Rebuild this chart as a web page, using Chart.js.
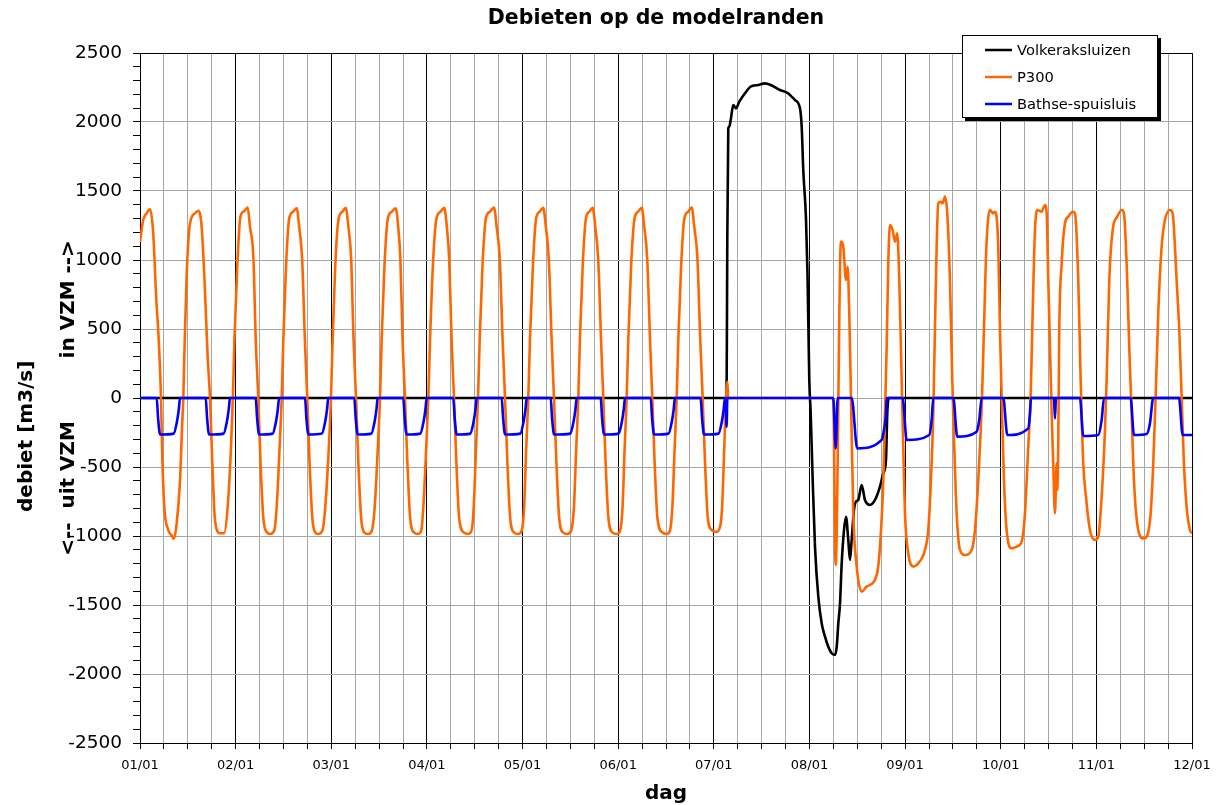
<!DOCTYPE html>
<html>
<head>
<meta charset="utf-8">
<title>Debieten op de modelranden</title>
<script src="https://cdn.jsdelivr.net/npm/chart.js@4.4.1/dist/chart.umd.min.js"></script>
<style>
  html, body { margin: 0; padding: 0; background: #fff; }
  #wrap { width: 1218px; height: 805px; }
</style>
</head>
<body>
<div id="wrap"><canvas id="chart" width="1218" height="805"></canvas></div>
<script>
// tijd in uren vanaf 01/01 00:00, debiet in m3/s
const chartTitle = 'Debieten op de modelranden';
const dayLabels = ['01/01', '02/01', '03/01', '04/01', '05/01', '06/01',
                   '07/01', '08/01', '09/01', '10/01', '11/01', '12/01'];
const seriesNames = ['Volkeraksluizen', 'P300', 'Bathse-spuisluis'];
const seriesColors = ['#000000', '#ff6600', '#0000ff'];

const volkerakPoints = [
  [0, 0], [147.2, 0], [147.38, 1145], [147.63, 1954], [147.88, 1966], [148.23, 2014],
  [148.88, 2123], [149.56, 2099], [150.39, 2147], [151.82, 2208], [153.25, 2256],
  [155.16, 2268], [156.84, 2280], [158.27, 2268], [160.6, 2232], [162.43, 2212],
  [164.36, 2159], [165.62, 2099], [166.05, 1966], [166.45, 1650], [167.13, 1300],
  [167.51, 900], [167.96, 130], [168.31, -111], [168.81, -594], [169.39, -1077],
  [170.22, -1440], [171.07, -1633], [171.9, -1729], [172.73, -1802], [173.58, -1850],
  [174.41, -1862], [174.84, -1802], [175.24, -1633], [175.67, -1488], [176.09, -1198],
  [176.67, -957], [177.17, -860], [177.74, -1029], [178.17, -1174], [178.59, -1029],
  [179.17, -812], [179.67, -751], [180.25, -739], [181.1, -630], [181.93, -739],
  [183.19, -775], [184.44, -739], [185.7, -642], [186.53, -546], [187.2, -449],
  [187.53, -111], [187.88, 0], [264, 0]
];

const p300Points = [
  [0, 1130], [0.8, 1290], [1.7, 1340], [2.51, 1370], [3.3, 1200], [4.1, 710], [4.7, 420],
  [5.27, 0], [5.6, -425], [6.1, -790], [7.1, -957], [7.9, -995], [8.5, -1020], [9.2, -910],
  [10.0, -620], [10.6, -180], [10.87, 0],
  [11.12, 300], [11.72, 900], [12.55, 1265], [13.8, 1338], [14.63, 1357], [15.47, 1240],
  [16.3, 780], [16.98, 300], [17.57, 0], [18.15, -470], [18.82, -885], [20.08, -980],
  [21.1, -980], [22.0, -790], [22.8, -380], [23.3, 0],
  [23.7, 420], [24.4, 950], [25.2, 1315], [26.2, 1355], [27.03, 1380], [27.6, 1240],
  [28.45, 1020], [29.05, 420], [29.68, 0], [30.25, -470], [30.95, -870], [31.9, -975],
  [32.62, -985], [33.7, -960], [34.3, -790], [35.0, -380], [35.56, 0],
  [35.98, 430], [36.65, 960], [37.45, 1300], [38.4, 1350], [39.32, 1375], [39.95, 1240],
  [40.7, 1000], [41.38, 420], [41.98, 0], [42.55, -470], [43.25, -870], [44.0, -975],
  [44.74, -985], [45.8, -960], [46.5, -790], [47.35, -380], [47.93, 0],
  [48.35, 430], [49.0, 960], [49.85, 1300], [50.8, 1350], [51.62, 1378], [52.3, 1240],
  [53.0, 1000], [53.6, 420], [54.21, 0], [54.8, -470], [55.5, -870], [56.3, -975],
  [57.29, -985], [58.2, -960], [58.9, -790], [59.65, -380], [60.23, 0],
  [60.65, 430], [61.35, 960], [62.2, 1300], [63.2, 1350], [64.17, 1375], [64.8, 1240],
  [65.35, 1000], [65.9, 420], [66.5, 0], [67.1, -470], [67.8, -870], [68.8, -975],
  [69.84, -985], [70.6, -960], [71.1, -790], [71.8, -380], [72.35, 0],
  [72.8, 430], [73.5, 960], [74.4, 1300], [75.4, 1350], [76.36, 1378], [77.0, 1240],
  [77.6, 1000], [78.2, 420], [78.8, 0], [79.4, -470], [80.1, -870], [81.3, -975],
  [82.38, -985], [83.2, -960], [83.75, -790], [84.3, -380], [84.82, 0],
  [85.25, 430], [85.95, 960], [86.8, 1300], [87.8, 1350], [88.83, 1380], [89.5, 1240],
  [90.3, 1000], [91.0, 420], [91.6, 0], [92.2, -470], [92.9, -870], [93.9, -975],
  [94.93, -985], [95.8, -960], [96.4, -790], [96.9, -380], [97.44, 0],
  [97.87, 430], [98.6, 960], [99.4, 1300], [100.3, 1350], [101.2, 1378], [101.85, 1240],
  [102.6, 1000], [103.3, 420], [103.89, 0], [104.5, -470], [105.2, -870], [106.2, -975],
  [107.23, -985], [108.2, -960], [108.9, -790], [109.45, -380], [109.99, 0],
  [110.4, 430], [111.1, 960], [111.9, 1300], [112.75, 1350], [113.6, 1378], [114.25, 1240],
  [115.0, 1000], [115.7, 420], [116.26, 0], [116.85, -470], [117.55, -870], [118.6, -975],
  [119.62, -985], [120.5, -960], [121.1, -790], [121.6, -380], [122.13, 0],
  [122.55, 430], [123.25, 960], [124.1, 1300], [125.0, 1350], [125.9, 1378], [126.55, 1240],
  [127.3, 1000], [128.0, 420], [128.56, 0], [129.15, -470], [129.85, -870], [131.1, -975],
  [132.17, -985], [133.0, -960], [133.6, -790], [134.15, -380], [134.68, 0],
  [135.1, 430], [135.8, 960], [136.6, 1300], [137.55, 1350], [138.44, 1380], [139.1, 1240],
  [139.9, 1000], [140.6, 420], [141.2, 0], [141.8, -470], [142.5, -870], [143.6, -960],
  [144.72, -970], [145.6, -930], [146.1, -780], [146.6, -380], [147.05, 0],
  [147.4, 118], [147.6, 0], [173.95, 0],
  [174.58, -1210], [175.91, 1133], [176.49, 1096], [177.17, 855], [177.59, 951],
  [177.99, 614], [178.42, 10], [179.0, -836], [179.85, -1222], [181.1, -1403],
  [182.36, -1367], [184.87, -1283], [185.7, -1077], [186.53, -594], [186.95, -111],
  [187.38, 372], [187.78, 976], [188.21, 1254], [188.88, 1217], [189.46, 1133],
  [190.04, 1193], [190.54, 855], [191.14, 130], [191.54, -353], [191.97, -836],
  [192.8, -1125], [194.05, -1222], [195.31, -1198], [196.99, -1101], [197.81, -957],
  [198.49, -594], [199.07, -111], [199.49, 493], [199.92, 1096], [200.32, 1411],
  [200.93, 1422], [201.43, 1411], [202.01, 1459], [202.58, 1338], [203.26, 855],
  [203.84, 130], [204.34, -353], [204.94, -836], [205.77, -1101], [207.03, -1138],
  [208.71, -1101], [209.53, -957], [210.36, -594], [211.3, 0], [211.9, 614],
  [212.4, 1096], [213.3, 1362], [214.13, 1338], [214.55, 1350], [215.38, 1096],
  [215.81, 493], [216.23, 10], [216.81, -594], [217.49, -957], [218.74, -1089],
  [220.0, -1077], [221.25, -1041], [222.08, -836], [222.91, -353], [223.51, 10],
  [224.01, 614], [224.6, 1217], [225.17, 1362], [226.27, 1350], [227.1, 1398],
  [227.53, 1338], [227.93, 855], [228.36, 372], [228.78, -111], [229.18, -473],
  [229.61, -836], [230.04, -473], [230.19, -667], [230.44, -328], [230.69, 493],
  [231.29, 976], [232.12, 1266], [232.95, 1314], [234.05, 1350], [234.63, 1338],
  [235.46, 855], [236.06, 130], [236.71, -473], [237.39, -715], [238.39, -957],
  [239.65, -1029], [240.47, -1005], [241.33, -715], [242.16, -232], [242.58, 130],
  [243.24, 855], [244.09, 1217], [245.24, 1314], [246.35, 1362], [246.92, 1338],
  [247.6, 976], [248.25, 372], [248.85, -111], [249.43, -594], [250.51, -957],
  [251.77, -1017], [252.62, -1005], [253.62, -836], [254.28, -473], [254.88, 10],
  [255.53, 614], [256.38, 1096], [257.21, 1290], [258.46, 1362], [259.14, 1338],
  [260.14, 855], [260.8, 493], [261.4, 10], [261.97, -473], [262.65, -788],
  [263.48, -957], [264, -981]
];

const bathsePoints = [
  [0, 0],
  [4.19, 0], [4.55, -150], [5.05, -265], [8.45, -258], [9.25, -175], [9.75, -80], [10.04, 0],
  [16.49, 0], [16.85, -150], [17.35, -265], [20.98, -258], [21.78, -175], [22.28, -80], [22.58, 0],
  [29.03, 0], [29.4, -150], [29.9, -265], [33.3, -258], [34.1, -175], [34.6, -80], [34.91, 0],
  [41.41, 0], [41.77, -150], [42.27, -265], [45.65, -258], [46.45, -175], [46.95, -80], [47.25, 0],
  [53.78, 0], [54.14, -150], [54.64, -265], [58.05, -258], [58.85, -175], [59.35, -80], [59.65, 0],
  [66.07, 0], [66.43, -150], [66.93, -265], [70.34, -258], [71.14, -175], [71.64, -80], [71.94, 0],
  [78.62, 0], [78.98, -150], [79.48, -265], [82.89, -258], [83.69, -175], [84.19, -80], [84.49, 0],
  [90.77, 0], [91.13, -150], [91.63, -265], [95.44, -258], [96.24, -175], [96.74, -80], [97.04, 0],
  [103.06, 0], [103.42, -150], [103.92, -265], [107.98, -258], [108.78, -175], [109.28, -80], [109.58, 0],
  [115.61, 0], [115.97, -150], [116.47, -265], [120.11, -258], [120.91, -175], [121.41, -80], [121.71, 0],
  [128.16, 0], [128.52, -150], [129.02, -265], [132.64, -258], [133.44, -175], [133.94, -80], [134.24, 0],
  [140.7, 0], [141.06, -150], [141.56, -265], [145.19, -258], [145.99, -175], [146.49, -80], [146.79, 0],
  [147.0, 0], [147.2, -208], [147.4, 0],
  [173.98, 0], [174.58, -365], [175.08, 0],
  [178.59, 0], [180.0, -365], [186.12, -304], [186.7, -232], [187.2, -111], [187.38, 0],
  [191.39, 0], [192.4, -304], [198.07, -268], [198.67, -159], [199.07, 0],
  [204.09, 0], [205.09, -280], [209.96, -244], [210.61, -159], [211.22, 0],
  [216.64, 0], [217.65, -268], [222.92, -220], [223.34, -111], [223.59, 0],
  [229.36, 0], [229.61, -148], [229.86, 0],
  [235.88, 0], [236.71, -275], [240.47, -268], [241.33, -159], [241.91, 0],
  [248.6, 0], [249.43, -268], [252.62, -261], [253.44, -184], [254.27, 0],
  [260.73, 0], [261.66, -268], [264, -268]
];

const xMax = 264, xStep = 6, hoursPerDay = 24;
const yMin = -2500, yMax = 2500, yStep = 100, yLabelStep = 500;
const fontFamily = '"DejaVu Sans", Verdana, sans-serif';

// titel boven de grafiek
const titlePlugin = {
  id: 'kop',
  afterDraw(chart) {
    const ctx = chart.ctx;
    ctx.save();
    ctx.font = 'bold 20.5px ' + fontFamily;
    ctx.fillStyle = '#000';
    ctx.textAlign = 'center';
    ctx.textBaseline = 'middle';
    ctx.fillText(chartTitle, 656, 19);
    ctx.restore();
  }
};

// legenda-kader met schaduw, rechtsboven zoals in Excel
const legendPlugin = {
  id: 'legendaKader',
  afterDraw(chart) {
    const ctx = chart.ctx;
    const x = 962, y = 35, w = 196, h = 83;
    ctx.save();
    ctx.fillStyle = '#000';
    ctx.fillRect(x + 3, y + 3, w, h);
    ctx.fillStyle = '#fff';
    ctx.fillRect(x, y, w, h);
    ctx.strokeStyle = '#000';
    ctx.lineWidth = 1;
    ctx.strokeRect(x + 0.5, y + 0.5, w - 1, h - 1);
    ctx.font = '14.7px ' + fontFamily;
    ctx.textBaseline = 'middle';
    chart.data.datasets.forEach((ds, i) => {
      const ly = y + 15 + i * 27;
      ctx.strokeStyle = ds.borderColor;
      ctx.lineWidth = 2.5;
      ctx.beginPath();
      ctx.moveTo(x + 23, ly);
      ctx.lineTo(x + 50, ly);
      ctx.stroke();
      ctx.fillStyle = '#000';
      ctx.fillText(ds.label, x + 55, ly + 1);
    });
    ctx.restore();
  }
};

const pointSets = [volkerakPoints, p300Points, bathsePoints];

new Chart(document.getElementById('chart'), {
  type: 'line',
  data: {
    datasets: pointSets.map((pts, i) => ({
      label: seriesNames[i],
      data: pts,
      borderColor: seriesColors[i],
      backgroundColor: seriesColors[i],
      borderWidth: 2.6,
      pointRadius: 0,
      fill: false,
      cubicInterpolationMode: 'monotone',
      order: 2 - i
    }))
  },
  options: {
    responsive: false,
    animation: false,
    devicePixelRatio: 1,
    layout: { padding: { left: 0, right: 26, top: 53, bottom: 0 } },
    plugins: {
      legend: { display: false },
      title: { display: false },
      tooltip: { enabled: false }
    },
    scales: {
      x: {
        type: 'linear',
        min: 0,
        max: xMax,
        afterFit(scale) {
          scale.height = 62;
          scale.paddingLeft = 20;
          scale.paddingRight = 20;
        },
        ticks: {
          stepSize: xStep,
          autoSkip: false,
          maxRotation: 0,
          padding: 9,
          color: '#000',
          font: { family: fontFamily, size: 13 },
          callback: v => (v % hoursPerDay === 0 ? dayLabels[v / hoursPerDay] : '')
        },
        grid: {
          color: c => (c.tick && c.tick.value % hoursPerDay === 0 ? '#000' : '#a6a6a6'),
          tickColor: '#000',
          tickLength: 6,
          lineWidth: 1
        },
        border: { color: '#000', width: 1 },
        title: {
          display: true,
          text: 'dag',
          color: '#000',
          font: { family: fontFamily, size: 20, weight: 'bold', lineHeight: 1.1 },
          padding: { top: 0, bottom: 0 }
        }
      },
      y: {
        min: yMin,
        max: yMax,
        afterFit(scale) { scale.width = 140; },
        ticks: {
          stepSize: yStep,
          autoSkip: false,
          padding: 11,
          color: '#000',
          font: { family: fontFamily, size: 18.5 },
          callback: v => (v % yLabelStep === 0 ? String(v) : '')
        },
        grid: {
          color: c => {
            if (!c.tick) return 'rgba(0,0,0,0)';
            if (c.tick.value === yMax) return '#000';
            return c.tick.value % yLabelStep === 0 ? '#a6a6a6' : 'rgba(0,0,0,0)';
          },
          tickColor: '#000',
          tickLength: 7,
          lineWidth: 1
        },
        border: { color: '#000', width: 1 },
        title: {
          display: true,
          // trailing spaces schuiven de eerste regel omlaag, zoals in het origineel
          text: ['debiet [m3/s]           ', '<--  uit VZM         in VZM -->'],
          color: '#000',
          font: { family: fontFamily, size: 20, weight: 'bold', lineHeight: 2.1 },
          padding: { top: 6, bottom: 0 }
        }
      }
    }
  },
  plugins: [titlePlugin, legendPlugin]
});
</script>
</body>
</html>
